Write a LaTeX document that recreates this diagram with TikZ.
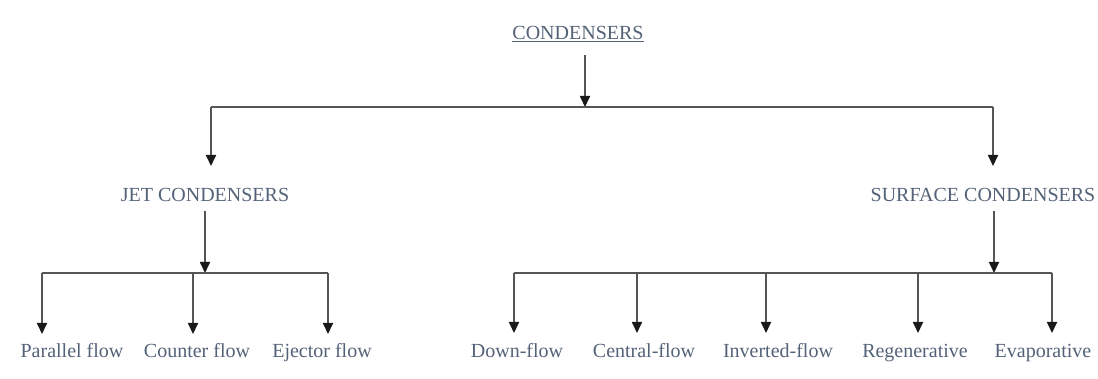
\documentclass[tikz,border=0pt]{standalone}
\usepackage{fontspec}
\setmainfont{Liberation Serif}
\usetikzlibrary{arrows.meta}
\definecolor{txt}{RGB}{84,98,120}
\definecolor{lncol}{RGB}{85,85,85}
\definecolor{headcol}{RGB}{25,25,25}
\begin{document}
\begin{tikzpicture}[x=1pt,y=1pt,
  lbl/.style={anchor=base,inner sep=0pt,text=txt,font=\fontsize{20}{22}\selectfont},
  ln/.style={draw=lncol,line width=1.7pt},
  arr/.style={ln,-{Triangle[length=11pt,width=10pt,color=headcol,fill=headcol]}}]
\useasboundingbox (0,0) rectangle (1098,-379);
% top level
\node[lbl] (top) at (578,-40) {\underline{CONDENSERS}};
\coordinate (t0) at (585,-55);
\coordinate (t1) at (585,-107);
\coordinate (tl) at (211,-107);
\coordinate (tr) at (993,-107);
\draw[arr] (t0) -- (t1);
\draw[ln] (tl) -- (tr);
% second level
\node[lbl] (jet) at (205,-202) {JET CONDENSERS};
\node[lbl] (surf) at (983,-202) {SURFACE CONDENSERS};
\coordinate (jin) at (211,-166);
\coordinate (sin) at (993,-166);
\draw[arr] (tl) -- (jin);
\draw[arr] (tr) -- (sin);
% jet branch
\coordinate (j0) at (205,-211);
\coordinate (j1) at (205,-273);
\coordinate (jl) at (42,-273);
\coordinate (jm) at (193,-273);
\coordinate (jr) at (328,-273);
\draw[arr] (j0) -- (j1);
\draw[ln] (jl) -- (jr);
\node[lbl] (par) at (72,-358) {Parallel flow};
\node[lbl] (cou) at (197,-358) {Counter flow};
\node[lbl] (eje) at (322,-358) {Ejector flow};
\coordinate (pa) at (42,-334);
\coordinate (co) at (193,-334);
\coordinate (ej) at (328,-334);
\draw[arr] (jl) -- (pa);
\draw[arr] (jm) -- (co);
\draw[arr] (jr) -- (ej);
% surface branch
\coordinate (s0) at (994,-211);
\coordinate (s1) at (994,-273);
\coordinate (sl) at (514,-273);
\coordinate (sa) at (637,-273);
\coordinate (sb) at (766,-273);
\coordinate (sc) at (918,-273);
\coordinate (sr) at (1052,-273);
\draw[arr] (s0) -- (s1);
\draw[ln] (sl) -- (sr);
\node[lbl] (dow) at (517,-358) {Down-flow};
\node[lbl] (cen) at (644,-358) {Central-flow};
\node[lbl] (inv) at (778,-358) {Inverted-flow};
\node[lbl] (reg) at (915,-358) {Regenerative};
\node[lbl] (eva) at (1043,-358) {Evaporative};
\coordinate (da) at (514,-333);
\coordinate (ca) at (637,-333);
\coordinate (ia) at (766,-333);
\coordinate (ra) at (918,-333);
\coordinate (ea) at (1052,-333);
\draw[arr] (sl) -- (da);
\draw[arr] (sa) -- (ca);
\draw[arr] (sb) -- (ia);
\draw[arr] (sc) -- (ra);
\draw[arr] (sr) -- (ea);
\end{tikzpicture}
\end{document}
